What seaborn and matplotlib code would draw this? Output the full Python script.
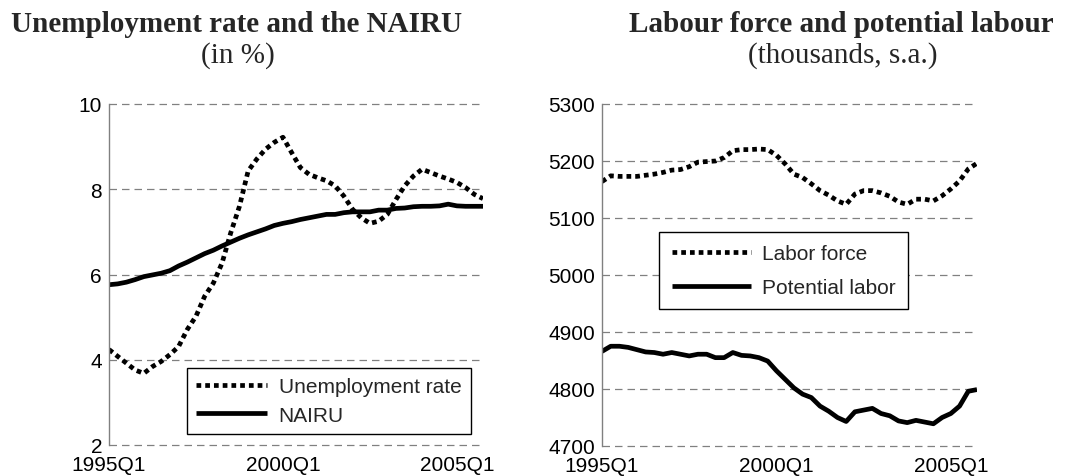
import numpy as np
import pandas as pd
import matplotlib
matplotlib.use("Agg")
import matplotlib.pyplot as plt
import seaborn as sns

# ---------------- data ----------------
quarters = [f"{1995 + i // 4}Q{i % 4 + 1}" for i in range(44)]
xticks_labels = ["1995Q1", "2000Q1", "2005Q1"]

unemployment = [4.24, 4.08, 3.92, 3.76, 3.68, 3.84, 3.96, 4.12, 4.31, 4.71,
                5.02, 5.49, 5.80, 6.27, 6.98, 7.60, 8.43, 8.71, 8.94, 9.10,
                9.22, 8.86, 8.51, 8.35, 8.27, 8.20, 8.08, 7.84, 7.53, 7.33,
                7.20, 7.25, 7.41, 7.76, 8.08, 8.31, 8.47, 8.39, 8.31, 8.24,
                8.16, 8.04, 7.88, 7.78]
nairu = [5.76, 5.78, 5.82, 5.88, 5.95, 5.99, 6.03, 6.09, 6.20, 6.29,
         6.39, 6.49, 6.57, 6.67, 6.76, 6.85, 6.93, 7.00, 7.07, 7.15,
         7.20, 7.24, 7.29, 7.33, 7.37, 7.41, 7.41, 7.45, 7.47, 7.47,
         7.47, 7.51, 7.51, 7.55, 7.56, 7.59, 7.60, 7.60, 7.61, 7.65,
         7.61, 7.60, 7.60, 7.60]

labor_force = [5164, 5174, 5173, 5173, 5173, 5175, 5177, 5180, 5184, 5185,
               5190, 5198, 5199, 5200, 5206, 5218, 5220, 5220, 5221, 5220,
               5210, 5195, 5177, 5171, 5160, 5148, 5140, 5130, 5124, 5142,
               5148, 5148, 5144, 5138, 5128, 5124, 5133, 5133, 5130, 5139,
               5151, 5165, 5186, 5196]
potential_labor = [4866, 4875, 4875, 4873, 4869, 4865, 4864, 4861, 4864, 4861,
                   4858, 4861, 4861, 4855, 4855, 4864, 4859, 4858, 4855, 4849,
                   4832, 4817, 4802, 4791, 4785, 4770, 4761, 4750, 4743, 4760,
                   4763, 4766, 4757, 4753, 4744, 4741, 4745, 4742, 4739, 4750,
                   4757, 4770, 4796, 4799]

df = pd.DataFrame({
    "t": np.arange(len(quarters)),
    "quarter": quarters,
    "unemployment": unemployment,
    "nairu": nairu,
    "labor_force": labor_force,
    "potential_labor": potential_labor,
})

sns.set_style("white")
plt.rcParams["font.family"] = ["Liberation Sans", "DejaVu Sans"]

fig = plt.figure(figsize=(10.83, 4.77), dpi=100)
W, H = 1083, 477

ax1 = fig.add_axes([109 / W, 1 - 446 / H, 374 / W, 341 / H])
ax2 = fig.add_axes([602 / W, 1 - 447 / H, 375 / W, 342 / H])

GRID = "#808080"
LW = 3.4
DOT = (0, (1, 0.85))


def style_axes(ax, yticks, ylim):
    ax.set_xlim(0, len(quarters) - 1)
    ax.set_ylim(*ylim)
    ax.set_yticks(yticks)
    ax.set_yticklabels([str(v) for v in yticks])
    tick_pos = [quarters.index(q) for q in xticks_labels]
    ax.set_xticks(tick_pos)
    ax.set_xticklabels(xticks_labels)
    for y in yticks:
        ax.axhline(y, color=GRID, lw=0.9, ls=(0, (6, 4)), zorder=0.5, clip_on=False)
    for s in ["top", "right", "bottom"]:
        ax.spines[s].set_visible(False)
    ax.spines["left"].set_color(GRID)
    ax.spines["left"].set_linewidth(1.0)
    ax.tick_params(axis="x", direction="in", length=4, color="#404040",
                   labelsize=15, pad=7)
    ax.tick_params(axis="y", direction="in", length=0, labelsize=15, pad=5)
    ax.set_xlabel("")
    ax.set_ylabel("")
    for lab in ax.get_xticklabels() + ax.get_yticklabels():
        lab.set_color("black")


# ---- left panel ----
sns.lineplot(data=df, x="t", y="unemployment", ax=ax1, color="black", lw=LW,
             ls=DOT, label="Unemployment rate")
sns.lineplot(data=df, x="t", y="nairu", ax=ax1, color="black", lw=LW,
             label="NAIRU")
style_axes(ax1, [2, 4, 6, 8, 10], (2, 10))

# ---- right panel ----
sns.lineplot(data=df, x="t", y="labor_force", ax=ax2, color="black", lw=LW,
             ls=DOT, label="Labor force")
sns.lineplot(data=df, x="t", y="potential_labor", ax=ax2, color="black", lw=LW,
             label="Potential labor")
style_axes(ax2, [4700, 4800, 4900, 5000, 5100, 5200, 5300], (4700, 5300))

for ax in (ax1, ax2):
    for ln in ax.get_lines():
        ln.set_dash_capstyle("butt")
        ln.set_solid_capstyle("butt")


def make_legend(ax, anchor, spacing, bpad, hlen):
    leg = ax.legend(loc="upper left", bbox_to_anchor=anchor, frameon=True,
                    fancybox=False, shadow=False, fontsize=15,
                    handlelength=hlen, handletextpad=0.55, labelspacing=spacing,
                    borderpad=bpad, borderaxespad=0, framealpha=1)
    leg.get_frame().set_edgecolor("black")
    leg.get_frame().set_linewidth(1.0)
    for h in leg.get_lines():
        h.set_dash_capstyle("butt")
        h.set_solid_capstyle("butt")
    return leg


make_legend(ax1, (0.2086, 0.2258), 0.45, 0.45, 3.4)
make_legend(ax2, (0.152, 0.626), 0.7, 0.6, 3.8)

# ---- titles ----
serif = ["Liberation Serif", "DejaVu Serif"]
fig.text(237 / W, 1 - 32 / H, "Unemployment rate and the NAIRU", ha="center",
         va="baseline", fontsize=21, fontweight="bold", family=serif)
fig.text(238 / W, 1 - 63 / H, "(in %)", ha="center", va="baseline",
         fontsize=21, family=serif)
fig.text(841 / W, 1 - 32 / H, "Labour force and potential labour", ha="center",
         va="baseline", fontsize=21, fontweight="bold", family=serif)
fig.text(843 / W, 1 - 63 / H, "(thousands, s.a.)", ha="center", va="baseline",
         fontsize=21, family=serif)

fig.savefig("out.png", dpi=100)
